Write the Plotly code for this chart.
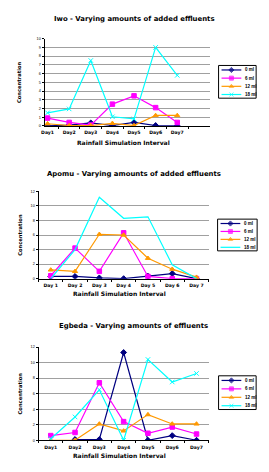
import plotly.graph_objects as go

# ---------------- data ----------------
series_names = ["0 ml", "6 ml", "12 ml", "18 ml"]
series_colors = ["#000080", "#FF00FF", "#FF9900", "#00FFFF"]
series_symbols = ["diamond", "square", "triangle-up", "x-thin-open"]

days_iwo = ["Day1", "Day2", "Day3", "Day4", "Day5", "Day6", "Day7"]
days_apomu = ["Day 1", "Day 2", "Day 3", "Day 4", "Day 5", "Day 6", "Day 7"]
days_egbeda = ["Day1", "Day2", "Day3", "Day4", "Day5", "Day6", "Day7"]

iwo_0 = [0.0, 0.1, 0.35, 0.05, 0.4, 0.05, 0.0]
iwo_6 = [0.9, 0.4, 0.1, 2.5, 3.45, 2.1, 0.4]
iwo_12 = [0.25, 0.05, 0.05, 0.3, 0.05, 1.2, 1.2]
iwo_18 = [1.5, 1.95, 7.5, 1.05, 0.8, 9.0, 5.8]

apomu_0 = [0.3, 0.3, 0.1, 0.0, 0.35, 0.7, 0.0]
apomu_6 = [0.4, 4.2, 1.0, 6.3, 0.3, 0.0, 0.0]
apomu_12 = [1.2, 1.0, 6.1, 6.0, 2.8, 1.3, 0.2]
apomu_18 = [0.0, 4.0, 11.2, 8.3, 8.5, 1.9, 0.0]

egbeda_0 = [None, 0.1, 0.1, 11.3, 0.0, 0.6, 0.0]
egbeda_6 = [0.6, 1.0, 7.4, 2.4, 0.9, 1.7, 0.8]
egbeda_12 = [0.0, 0.0, 2.1, 1.2, 3.3, 2.1, 2.1]
egbeda_18 = [0.2, 3.0, 6.5, 0.0, 10.4, 7.5, 8.6]

titles = ["Iwo - Varying amounts of added effluents",
          "Apomu - Varying amounts of added effluents",
          "Egbeda - Varying amounts of effluents"]

charts = [
    dict(days=days_iwo, data=[iwo_0, iwo_6, iwo_12, iwo_18], ymax=10, dtick=1,
         xrange=[-0.14, 7.5], markers=[True, True, True, True]),
    dict(days=days_apomu, data=[apomu_0, apomu_6, apomu_12, apomu_18], ymax=12, dtick=2,
         xrange=[-0.5, 6.5], markers=[True, True, True, False]),
    dict(days=days_egbeda, data=[egbeda_0, egbeda_6, egbeda_12, egbeda_18], ymax=12, dtick=2,
         xrange=[-0.5, 6.5], markers=[True, True, True, True]),
]

# ---------------- layout (pixels) ----------------
W, H = 269, 472
plot_boxes = [(42, 209, 37, 125), (36, 208, 191, 279), (36, 208, 348, 442)]  # x0,x1,ytop,ybottom
title_y = [17, 173, 327]
xtitle_y = [142, 294, 457]
legend_boxes = [(218, 64, 256, 97), (217, 219, 257, 251), (218, 377, 256, 411)]

FONT = "Liberation Sans, Arial, sans-serif"
WIDE = "DejaVu Sans, Verdana, sans-serif"

fig = go.Figure()
layout = dict(width=W, height=H, margin=dict(l=0, r=0, t=0, b=0),
              paper_bgcolor="white", plot_bgcolor="rgba(0,0,0,0)", showlegend=False,
              font=dict(family=FONT, color="black"))
annotations = []
shapes = []

for i, ch in enumerate(charts):
    n = "" if i == 0 else str(i + 1)
    xa, ya = "x" + n, "y" + n
    x0, x1, yt, yb = plot_boxes[i]
    for k in range(4):
        mode = "lines+markers" if ch["markers"][k] else "lines"
        fig.add_trace(go.Scatter(
            x=ch["days"], y=ch["data"][k], mode=mode, name=series_names[k],
            xaxis=xa, yaxis=ya, connectgaps=False,
            line=dict(color=series_colors[k], width=1.2),
            marker=dict(symbol=series_symbols[k], size=4.5, color=series_colors[k],
                        line=dict(color=series_colors[k], width=1)),
        ))
    layout["xaxis" + n] = dict(
        domain=[x0 / W, x1 / W], anchor=ya, type="category", range=ch["xrange"],
        showgrid=False, showline=True, linecolor="black", linewidth=1,
        ticks="outside", ticklen=2, tickson="boundaries", tickcolor="black", tickangle=0,
        ticklabelstandoff=2,
        tickfont=dict(size=4.6, family=WIDE, weight="bold"), fixedrange=True)
    layout["yaxis" + n] = dict(
        domain=[1 - yb / H, 1 - yt / H], anchor=xa, range=[0, ch["ymax"]],
        dtick=ch["dtick"], showgrid=True, gridcolor="#A0A0A0", gridwidth=1,
        showline=True, linecolor="black", linewidth=1, ticks="outside", ticklen=2,
        tickcolor="black", tickfont=dict(size=3.8, family=FONT), zeroline=False,
        fixedrange=True)
    # titles
    annotations.append(dict(text="<b>" + titles[i] + "</b>", x=132 / W, y=1 - title_y[i] / H,
                            xref="paper", yref="paper", showarrow=False,
                            font=dict(size=6.9, family=WIDE), xanchor="center", yanchor="middle"))
    annotations.append(dict(text="<b>Rainfall Simulation Interval</b>", x=(x0 + x1) / 2 / W - 0.015,
                            y=1 - xtitle_y[i] / H, xref="paper", yref="paper", showarrow=False,
                            font=dict(size=6.0, family=WIDE), xanchor="center", yanchor="middle"))
    annotations.append(dict(text="<b>Concentration</b>", x=17 / W, y=1 - (yt + yb) / 2 / H,
                            xref="paper", yref="paper", showarrow=False, textangle=-90,
                            font=dict(size=5.2, family=WIDE), xanchor="center", yanchor="middle"))
    # legend box
    lx0, ly0, lx1, ly1 = legend_boxes[i]
    shapes.append(dict(type="rect", xref="x4", yref="y4", x0=lx0, y0=ly0, x1=lx1, y1=ly1,
                       line=dict(color="black", width=1), fillcolor="white", layer="below"))
    step = (ly1 - ly0) / 4.0
    for k in range(4):
        yy = ly0 + step * (k + 0.55)
        mode = "lines+markers" if ch["markers"][k] else "lines"
        fig.add_trace(go.Scatter(
            x=[lx0 + 3, lx0 + 13, lx0 + 23], y=[yy, yy, yy], mode=mode,
            xaxis="x4", yaxis="y4", hoverinfo="skip",
            line=dict(color=series_colors[k], width=1.2),
            marker=dict(symbol=series_symbols[k], size=[0, 4, 0], color=series_colors[k],
                        line=dict(color=series_colors[k], width=1))))
        annotations.append(dict(text="<b>" + series_names[k] + "</b>", x=lx0 + 25, y=yy,
                                xref="x4", yref="y4", showarrow=False, xanchor="left",
                                yanchor="middle", font=dict(size=4.5, family=FONT)))

layout["xaxis4"] = dict(domain=[0, 1], range=[0, W], visible=False, anchor="y4", fixedrange=True)
layout["yaxis4"] = dict(domain=[0, 1], range=[H, 0], visible=False, anchor="x4", fixedrange=True)
layout["annotations"] = annotations
layout["shapes"] = shapes
fig.update_layout(**layout)
fig.write_html("out.html", config={"displayModeBar": False})
